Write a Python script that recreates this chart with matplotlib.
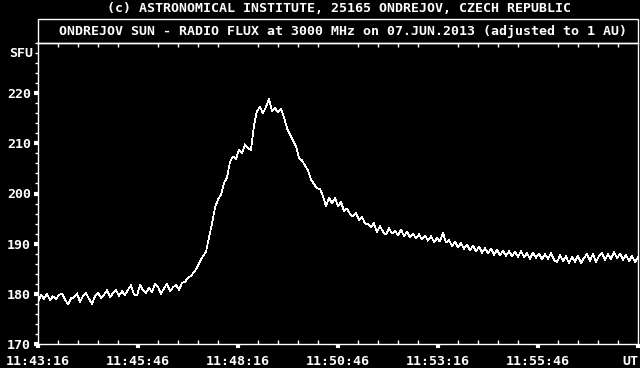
import numpy as np
import matplotlib.pyplot as plt
from matplotlib.patches import Rectangle
from matplotlib.ticker import MultipleLocator
import matplotlib.transforms as mtransforms

# Ondrejov 3000 MHz, 07.JUN.2013, one sample every 4.5 s starting 11:43:16 UT
flux = [
    178.4, 179.8, 179.0, 180.0, 178.8, 179.5, 178.9, 179.8, 180.0, 178.9,
    177.9, 179.1, 179.3, 180.1, 178.4, 179.6, 180.2, 179.0, 178.0, 179.5,
    180.2, 179.2, 179.8, 180.7, 179.4, 180.1, 180.8, 179.6, 180.5, 179.8,
    180.8, 181.7, 179.9, 179.7, 181.8, 180.7, 180.2, 181.2, 180.3, 181.9,
    181.4, 180.0, 181.1, 182.0, 180.5, 181.3, 181.8, 180.8, 182.2, 182.4,
    183.2, 183.6, 184.3, 185.2, 186.5, 187.5, 188.4, 191.2, 194.0, 197.2,
    198.8, 199.8, 202.1, 203.2, 206.3, 207.4, 206.8, 208.8, 208.0, 209.8,
    209.0, 208.7, 213.6, 216.5, 217.2, 216.0, 217.3, 218.9, 216.4, 217.0,
    216.2, 216.9, 215.2, 213.0, 211.8, 210.6, 209.4, 207.0, 206.6, 205.6,
    204.6, 202.8, 201.9, 201.0, 200.9, 199.5, 197.4, 199.2, 198.0, 199.1,
    197.4, 198.3, 196.5, 197.0, 195.9, 195.4, 196.1, 194.7, 195.4, 194.0,
    193.9, 193.2, 194.1, 192.3, 193.5, 192.4, 191.8, 193.1, 192.0, 192.6,
    191.7, 192.8, 191.5, 192.4, 191.2, 192.0, 191.0, 191.9, 190.8, 191.6,
    190.6, 191.5, 190.3, 191.1, 190.4, 192.2, 190.2, 190.8, 189.5, 190.4,
    189.3, 190.1, 189.0, 189.8, 188.7, 189.6, 188.5, 189.4, 188.2, 189.1,
    188.1, 189.0, 187.8, 188.8, 187.7, 188.6, 187.6, 188.5, 187.5, 188.4,
    187.4, 188.5, 187.3, 188.1, 187.0, 188.2, 187.2, 188.0, 186.9, 187.9,
    187.0, 188.1, 186.8, 186.3, 187.7, 186.5, 187.5, 186.1, 187.4, 186.4,
    187.6, 186.1, 187.2, 187.9, 186.6, 188.0, 186.3, 187.5, 188.1, 186.8,
    187.9, 186.9, 188.3, 187.1, 188.0, 186.8, 187.8, 186.5, 187.6, 186.3, 187.3,
]
t = np.arange(len(flux)) * 4.5  # seconds after 11:43:16

x_ticks = [0, 150, 300, 450, 600, 750, 900]
x_labels = ["11:43:16", "11:45:46", "11:48:16", "11:50:46", "11:53:16", "11:55:46", "UT"]
y_ticks = [170, 180, 190, 200, 210, 220]
y_labels = ["170", "180", "190", "200", "210", "220"]

titulo = "ONDREJOV SUN - RADIO FLUX at 3000 MHz on 07.JUN.2013 (adjusted to 1 AU)"
copyright = "(c) ASTRONOMICAL INSTITUTE, 25165 ONDREJOV, CZECH REPUBLIC"

fuente = dict(family="DejaVu Sans Mono", weight="bold", size=9.5, color="white")

W, H = 640, 368
fig = plt.figure(figsize=(6.4, 3.68), dpi=100, facecolor="black")
ax = fig.add_axes([38 / W, (H - 344) / H, 600 / W, 301 / H], facecolor="black")

ax.plot(t, flux, color="white", lw=0.5, antialiased=False)
ax.set_xlim(0, 900)
ax.set_ylim(170, 230)

for s in ax.spines.values():
    s.set_color("white")
    s.set_linewidth(1.0)

ax.set_xticks(x_ticks, x_labels)
ax.set_yticks(y_ticks, y_labels)
ax.xaxis.set_minor_locator(MultipleLocator(30))
ax.yaxis.set_minor_locator(MultipleLocator(2))
ax.tick_params(which="major", colors="white", length=3, width=3, direction="out")
ax.tick_params(axis="x", which="minor", colors="white", length=3, width=1,
               direction="in", top=True, bottom=True)
ax.tick_params(axis="y", which="minor", colors="white", length=2, width=1, direction="out")
ax.tick_params(axis="x", which="major", pad=5)
ax.tick_params(axis="y", which="major", pad=2)
for lab in ax.get_xticklabels() + ax.get_yticklabels():
    lab.set_fontproperties(dict(family="DejaVu Sans Mono", weight="bold", size=9.5))
    lab.set_color("white")
ax.get_xticklabels()[-1].set_ha("right")

trans = mtransforms.blended_transform_factory(ax.transAxes, ax.transData)
ax.text(-0.008, 228, "SFU", transform=trans, ha="right", va="center", **fuente)

# caja del encabezado
fig.patches.append(Rectangle((38 / W, (H - 43) / H), 600 / W, 24 / H,
                             transform=fig.transFigure, fill=False,
                             edgecolor="white", lw=1.0))
fig.text(343 / W, 1 - 31 / H, titulo, ha="center", va="center", **fuente)
fig.text(339 / W, 1 - 8 / H, copyright, ha="center", va="center", **fuente)

fig.savefig("out.png", dpi=100, facecolor="black")
